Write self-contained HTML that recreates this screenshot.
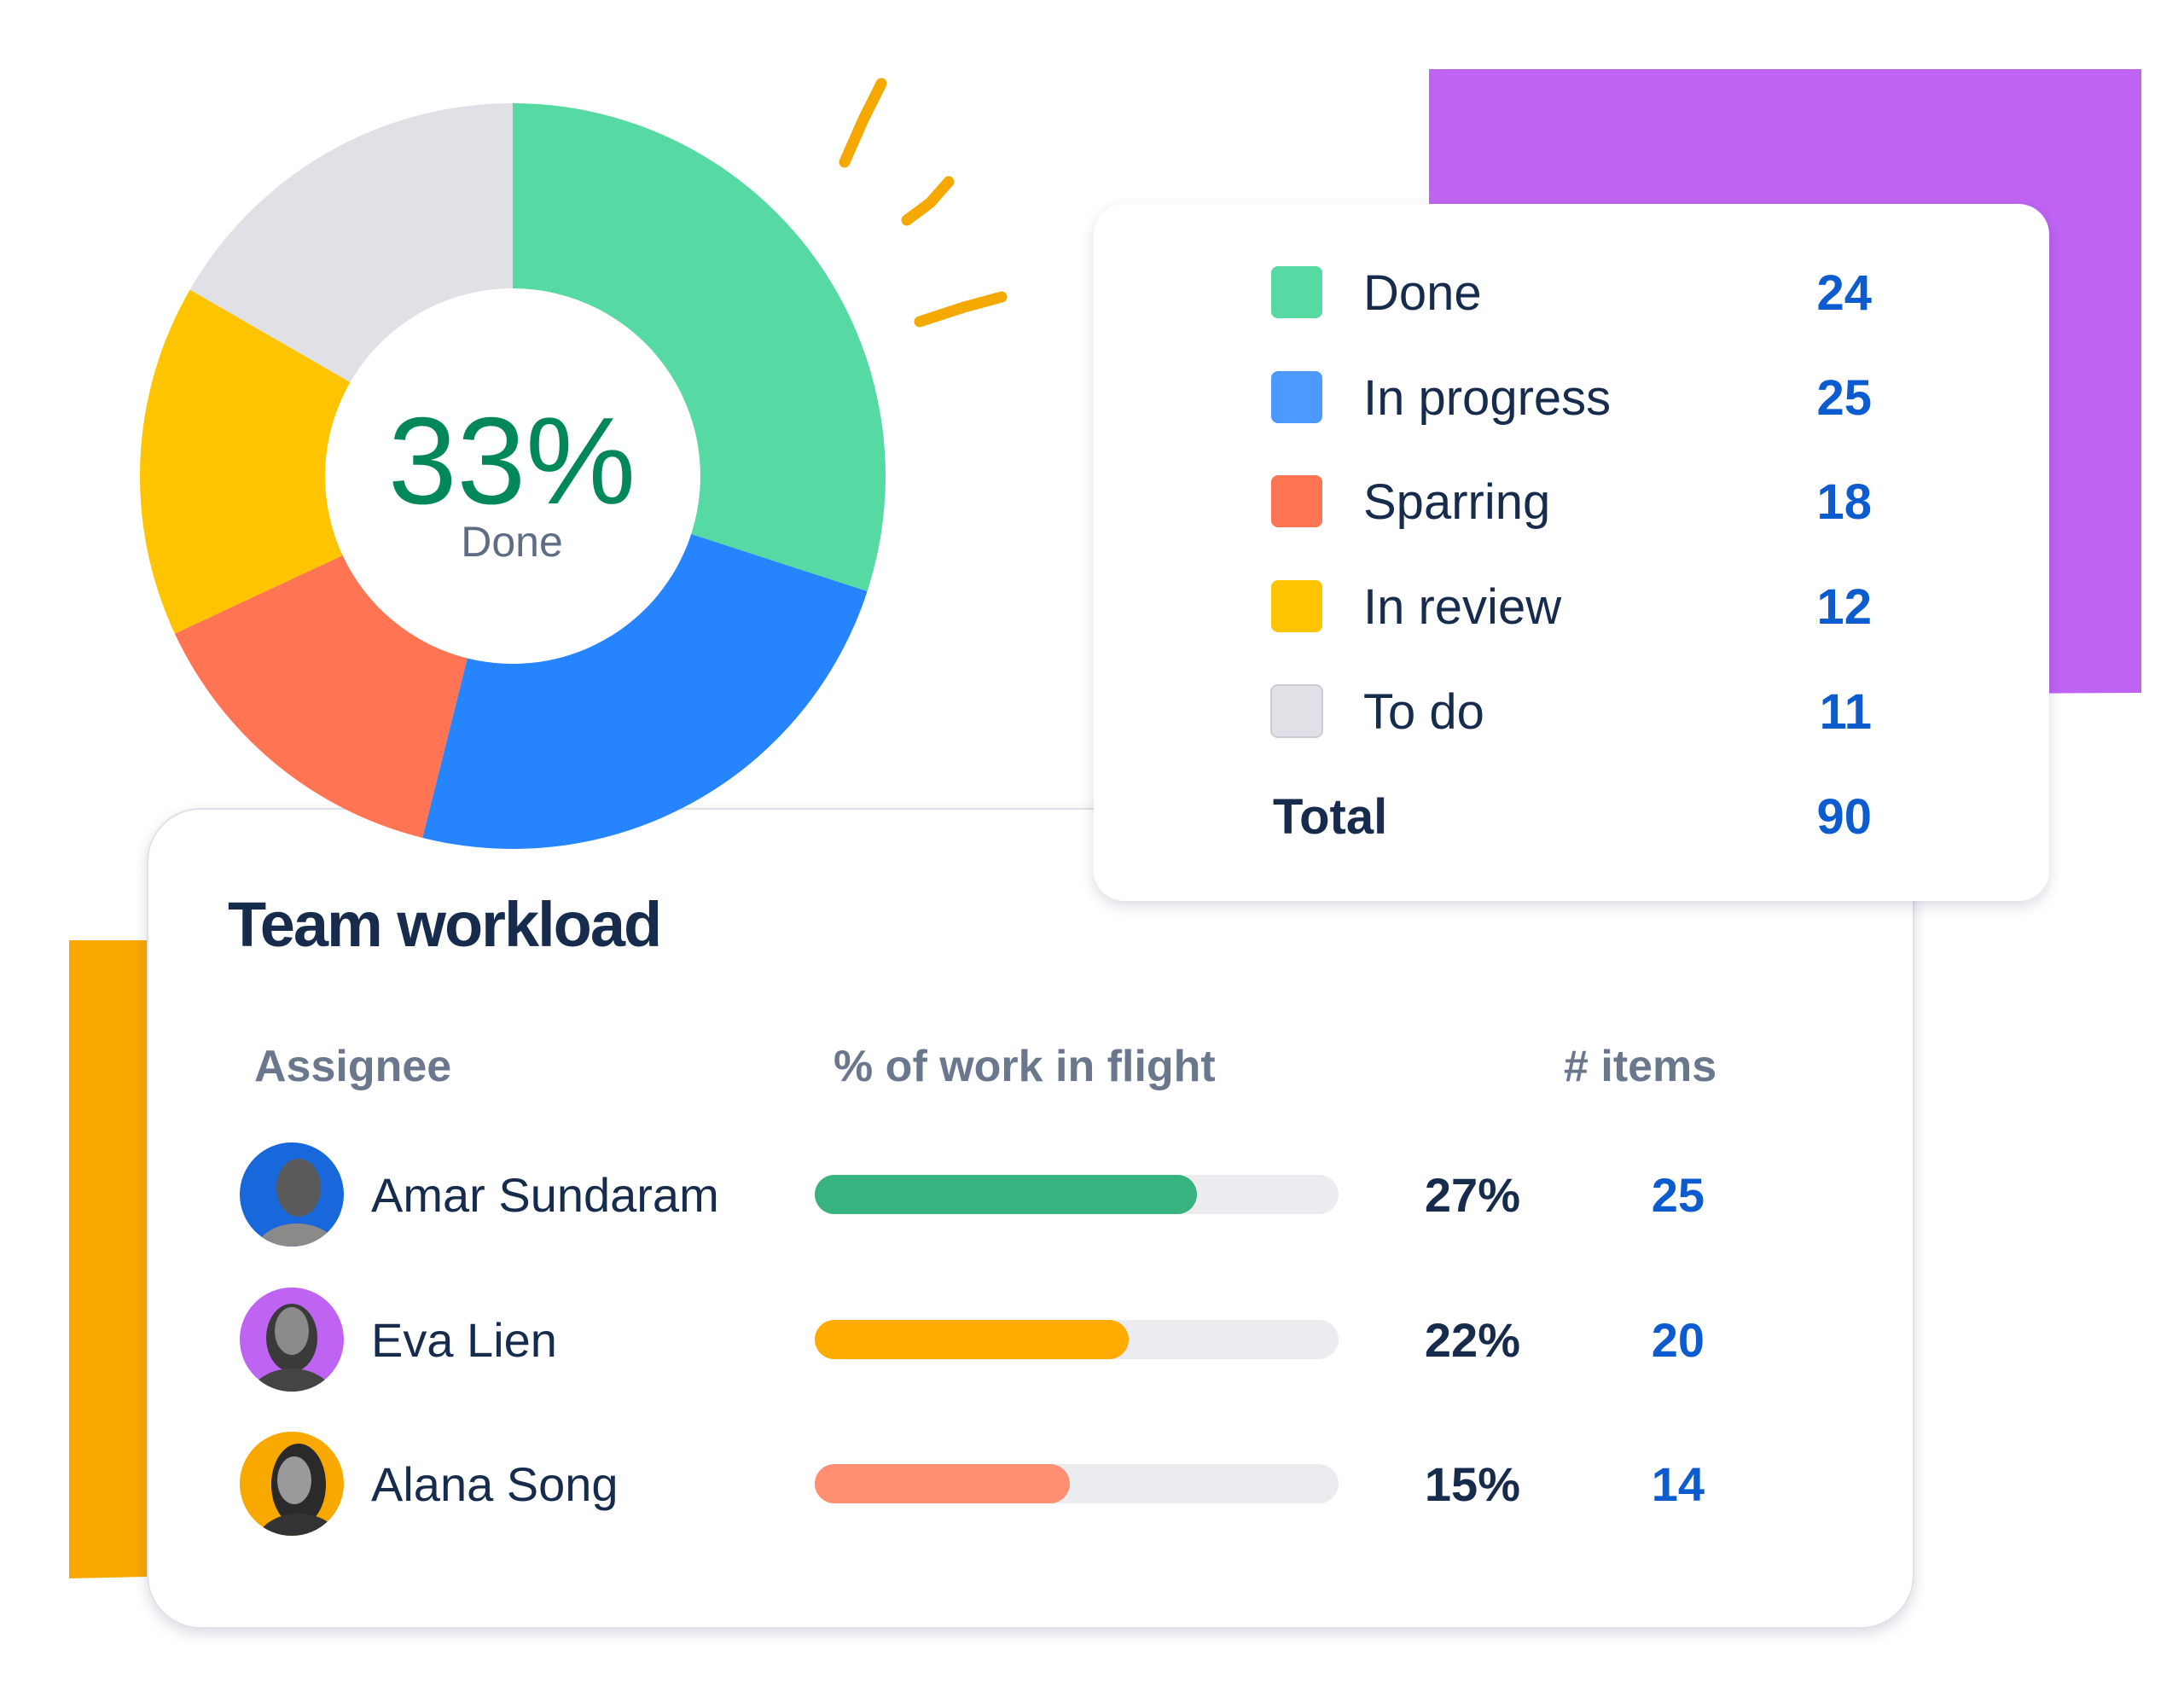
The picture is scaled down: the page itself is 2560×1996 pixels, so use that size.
<!DOCTYPE html>
<html><head><meta charset="utf-8"><style>
html,body{margin:0;padding:0;background:#fff;}
svg{display:block;font-family:"Liberation Sans",sans-serif;}
</style></head><body>
<svg width="2560" height="1996" viewBox="0 0 2560 1996" xmlns="http://www.w3.org/2000/svg">
<defs>
<filter id="sh" x="-10%" y="-10%" width="120%" height="125%">
<feDropShadow dx="0" dy="6" stdDeviation="8" flood-color="#091e42" flood-opacity="0.14"/>
</filter>
<clipPath id="c1"><circle cx="342" cy="1400" r="61"/></clipPath>
<clipPath id="c2"><circle cx="342" cy="1570" r="61"/></clipPath>
<clipPath id="c3"><circle cx="342" cy="1739" r="61"/></clipPath>
</defs>
<rect width="2560" height="1996" fill="#fff"/>
<polygon points="1675,81 2510,81 2510,812 1675,816" fill="#bf63f3"/>
<polygon points="81,1102 173,1102 173,1848 81,1850" fill="#f9a800"/>
<g stroke="#f5a800" stroke-width="13" stroke-linecap="round" fill="none">
<path d="M1033,98 L1012,140 L990,190"/>
<path d="M1112,213 L1090,238 L1063,258"/>
<path d="M1174,348 L1130,360 L1078,377"/>
</g>
<!-- workload card -->
<rect x="173" y="948" width="2070" height="960" rx="62" fill="#fff" stroke="#dfe1e6" stroke-width="2" filter="url(#sh)"/>
<!-- donut -->
<path d="M601,121 A437,437 0 0 1 1016.6,693 L810.2,626 A220,220 0 0 0 601,338 Z" fill="#57d9a3"/>
<path d="M1016.6,693 A437,437 0 0 1 495.3,982 L547.8,771.5 A220,220 0 0 0 810.2,626 Z" fill="#2684ff"/>
<path d="M495.3,982 A437,437 0 0 1 204.9,742.7 L401.6,651 A220,220 0 0 0 547.8,771.5 Z" fill="#ff7452"/>
<path d="M204.9,742.7 A437,437 0 0 1 222.6,339.5 L410.5,448 A220,220 0 0 0 401.6,651 Z" fill="#ffc400"/>
<path d="M222.6,339.5 A437,437 0 0 1 601,121 L601,338 A220,220 0 0 0 410.5,448 Z" fill="#dfe1e6"/>
<text x="600" y="590" text-anchor="middle" font-size="145" fill="#00875a">33%</text>
<text x="600" y="652" text-anchor="middle" font-size="50" fill="#5e6c84">Done</text>
<!-- legend card -->
<rect x="1282" y="239" width="1120" height="817" rx="36" fill="#fff" filter="url(#sh)"/>
<g font-size="58" fill="#172b4d">
<rect x="1490" y="312" width="60" height="61" rx="8" fill="#57d9a3"/>
<rect x="1490" y="435" width="60" height="61" rx="8" fill="#4c9aff"/>
<rect x="1490" y="557" width="60" height="61" rx="8" fill="#ff7452"/>
<rect x="1490" y="680" width="60" height="61" rx="8" fill="#ffc400"/>
<rect x="1490" y="803" width="60" height="61" rx="8" fill="#dfe1e6" stroke="#c9ccd3" stroke-width="2"/>
<text x="1598" y="363">Done</text>
<text x="1598" y="486">In progress</text>
<text x="1598" y="608">Sparring</text>
<text x="1598" y="731">In review</text>
<text x="1598" y="854">To do</text>
<text x="1492" y="977" font-weight="bold">Total</text>
</g>
<g font-size="58" fill="#0c5ccf" font-weight="bold" text-anchor="end">
<text x="2194" y="363">24</text>
<text x="2194" y="486">25</text>
<text x="2194" y="608">18</text>
<text x="2194" y="731">12</text>
<text x="2194" y="854">11</text>
<text x="2194" y="977">90</text>
</g>
<text x="267" y="1109" font-size="74" font-weight="bold" fill="#172b4d" letter-spacing="-2">Team workload</text>
<g font-size="52" fill="#6b778c" font-weight="bold">
<text x="298" y="1267">Assignee</text>
<text x="977" y="1267">% of work in flight</text>
<text x="1833" y="1267"># items</text>
</g>
<g>
<circle cx="342" cy="1400" r="61" fill="#1868db"/>
<g clip-path="url(#c1)"><ellipse cx="350" cy="1392" rx="26" ry="34" fill="#5a5a5a"/><ellipse cx="348" cy="1470" rx="50" ry="36" fill="#8a8a8a"/></g>
<circle cx="342" cy="1570" r="61" fill="#bf63f3"/>
<g clip-path="url(#c2)"><ellipse cx="342" cy="1568" rx="30" ry="40" fill="#3a3a3a"/><ellipse cx="342" cy="1560" rx="20" ry="28" fill="#8a8a8a"/><ellipse cx="342" cy="1640" rx="50" ry="36" fill="#444"/></g>
<circle cx="342" cy="1739" r="61" fill="#f9a800"/>
<g clip-path="url(#c3)"><ellipse cx="350" cy="1740" rx="32" ry="48" fill="#2a2a2a"/><ellipse cx="345" cy="1735" rx="20" ry="28" fill="#9a9a9a"/><ellipse cx="350" cy="1810" rx="50" ry="36" fill="#333"/></g>
</g>
<g font-size="56" fill="#172b4d">
<text x="435" y="1420">Amar Sundaram</text>
<text x="435" y="1590">Eva Lien</text>
<text x="435" y="1759">Alana Song</text>
</g>
<rect x="955" y="1377" width="614" height="46" rx="23" fill="#ebecf0"/>
<rect x="955" y="1377" width="448" height="46" rx="23" fill="#36b37e"/>
<rect x="955" y="1547" width="614" height="46" rx="23" fill="#ebecf0"/>
<rect x="955" y="1547" width="368" height="46" rx="23" fill="#ffab00"/>
<rect x="955" y="1716" width="614" height="46" rx="23" fill="#ebecf0"/>
<rect x="955" y="1716" width="299" height="46" rx="23" fill="#ff8f73"/>
<g font-size="56" fill="#172b4d" text-anchor="end" font-weight="bold">
<text x="1782" y="1420">27%</text>
<text x="1782" y="1590">22%</text>
<text x="1782" y="1759">15%</text>
</g>
<g font-size="56" fill="#0c5ccf" text-anchor="end" font-weight="bold">
<text x="1998" y="1420">25</text>
<text x="1998" y="1590">20</text>
<text x="1998" y="1759">14</text>
</g>
</svg>
</body></html>
